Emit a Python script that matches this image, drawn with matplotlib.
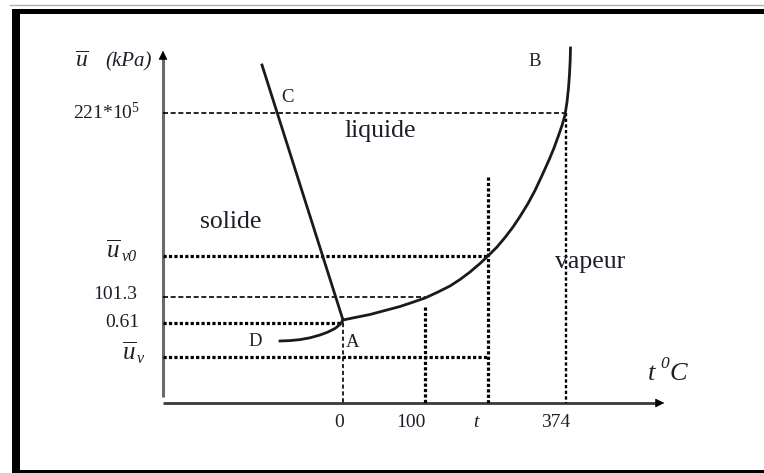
import matplotlib
matplotlib.use("Agg")
import matplotlib.pyplot as plt
from matplotlib.patches import Rectangle

plt.rcParams['font.family'] = ['Liberation Serif', 'DejaVu Serif']
plt.rcParams['mathtext.fontset'] = 'custom'
plt.rcParams['mathtext.rm'] = 'Liberation Serif'
plt.rcParams['mathtext.it'] = 'Liberation Serif:italic'
plt.rcParams['mathtext.bf'] = 'Liberation Serif:bold'

# ---- schematic data (diagram units = pixel positions of the sketch) ----
origin = (163, 403)
x_axis_end = 667
y_axis_end = 48

# temperature ticks
t_tick_pos = [343, 425, 488, 566]
t_tick_labels = ['0', '100', r'$t$', '374']

# pressure ticks
p_tick_pos = [113, 256, 297, 323, 357]
p_tick_labels = [r'221*10$^{5}$', r'$\overline{u}$', '101.3', '0.61', r'$\overline{u}$']
p_tick_subs = ['', 'v0', '', '', 'v']

# fusion line C-A
fusion_x = [262, 343]
fusion_y = [65, 320]
# sublimation curve D-A
sub_x = [280, 290, 300, 310, 320, 328, 335, 340, 343]
sub_y = [341, 340.6, 339.6, 337.8, 335, 332, 328.5, 324.5, 320]
# vaporisation curve A-B
vap_x = [343, 355, 370, 385, 400, 412, 425, 437, 450, 460, 470, 480, 488, 497, 505,
         513, 520, 528, 535, 542, 549, 554, 558, 562, 565, 567, 568.5, 569.5, 570.2, 570.5]
vap_y = [320, 317.5, 314.5, 310.5, 306.5, 302.5, 298, 292.5, 286, 279.5, 272, 263.5, 256, 247, 237.5,
         227, 216.5, 203.5, 190.5, 175.5, 160, 148, 137, 125.5, 115, 102, 88, 74, 60, 48]

TXT = '#1e1e28'

fig = plt.figure(figsize=(7.64, 4.73), dpi=100)
ax = fig.add_axes([0, 0, 1, 1])
ax.set_xlim(0, 764)
ax.set_ylim(473, 0)
ax.axis('off')

# ---- frame ----
ax.plot([10, 764], [5, 5], color='#b0b0b0', lw=1)
ax.add_patch(Rectangle((12, 9), 752, 5, color='black', lw=0))
ax.add_patch(Rectangle((12, 9), 8, 464, color='black', lw=0))
ax.add_patch(Rectangle((12, 470), 752, 3, color='black', lw=0))

# ---- axes with arrows ----
ax.plot([origin[0], origin[0]], [397, y_axis_end + 8], color='#6a6a6a', lw=2.2, solid_capstyle='butt')
ax.annotate('', xy=(origin[0], y_axis_end), xytext=(origin[0], y_axis_end + 12),
            arrowprops=dict(arrowstyle='-|>', color='black', lw=0.5, mutation_scale=14))
ax.plot([origin[0], x_axis_end - 8], [origin[1], origin[1]], color='#3a3a3a', lw=2.0, solid_capstyle='butt')
ax.annotate('', xy=(x_axis_end, origin[1]), xytext=(x_axis_end - 12, origin[1]),
            arrowprops=dict(arrowstyle='-|>', color='black', lw=0.5, mutation_scale=14))

thin_dash = dict(color='black', lw=1.2, linestyle=(0, (3, 1.6)))
thick_dot = dict(color='black', lw=2.3, linestyle=(0, (1.0, 0.7)))
med_dot = dict(color='black', lw=1.7, linestyle=(0, (1.4, 1.0)))

# horizontal guides
ax.plot([origin[0], t_tick_pos[3]], [p_tick_pos[0]] * 2, **thin_dash)
ax.plot([origin[0], t_tick_pos[2]], [p_tick_pos[1]] * 2, **thick_dot)
ax.plot([origin[0], t_tick_pos[1]], [p_tick_pos[2]] * 2, **thin_dash)
ax.plot([origin[0], t_tick_pos[0]], [p_tick_pos[3]] * 2, **thick_dot)
ax.plot([origin[0], t_tick_pos[2]], [p_tick_pos[4]] * 2, **thick_dot)

# vertical guides
ax.plot([t_tick_pos[0]] * 2, [p_tick_pos[3], origin[1]], color='black', lw=1.2, linestyle=(0, (2.5, 1.6)))
ax.plot([t_tick_pos[1]] * 2, [307, origin[1]], **thick_dot)
ax.plot([t_tick_pos[2]] * 2, [177, origin[1]], **thick_dot)
ax.plot([t_tick_pos[3]] * 2, [p_tick_pos[0], origin[1]], **med_dot)

# phase curves
ax.plot(fusion_x, fusion_y, color='#1a1a1a', lw=2.0)
ax.plot(sub_x, sub_y, color='#1a1a1a', lw=2.0, solid_joinstyle='round')
ax.plot(vap_x, vap_y, color='#1a1a1a', lw=2.0, solid_joinstyle='round')

# ---- tick labels ----
t_label_x = [339, 411, 477, 556]
for x, lab in zip(t_label_x, t_tick_labels):
    ax.text(x, 422, lab, ha='center', va='center', fontsize=14, color=TXT)

p_label_right = [140, 121, 137, 139, 136]
p_label_y = [112, 251, 294, 322, 353]
p_sizes = [14, 18, 14, 14, 18]
for x, y, lab, sub, fs in zip(p_label_right, p_label_y, p_tick_labels, p_tick_subs, p_sizes):
    ax.text(x, y, lab, ha='right', va='center', fontsize=fs, color=TXT)
    if sub:
        ax.text(x + 1, y + 6, sub, ha='left', va='center', fontsize=11.5,
                color=TXT, style='italic')

# axis titles
ax.text(75, 62, r'$\overline{u}$', ha='left', va='center', fontsize=17, color=TXT)
ax.text(105, 62, '(kPa)', ha='left', va='center', fontsize=15, color=TXT, style='italic')
ax.text(648, 374, 't', ha='left', va='center', fontsize=19, color=TXT, style='italic')
ax.text(660, 364, '0', ha='left', va='center', fontsize=12.5, color=TXT, style='italic')
ax.text(670, 374, 'C', ha='left', va='center', fontsize=19, color=TXT, style='italic')

# phase names
ax.text(345, 131, 'liquide', ha='left', va='center', fontsize=18.5, color=TXT)
ax.text(200, 222, 'solide', ha='left', va='center', fontsize=18.5, color=TXT)
ax.text(555, 262, 'vapeur', ha='left', va='center', fontsize=18.5, color=TXT)

# point letters
ax.text(535, 62, 'B', ha='center', va='center', fontsize=13.5, color=TXT)
ax.text(287, 97, 'C', ha='center', va='center', fontsize=13.5, color=TXT)
ax.text(255, 341, 'D', ha='center', va='center', fontsize=13.5, color=TXT)
ax.text(353, 342, 'A', ha='center', va='center', fontsize=13.5, color=TXT)

fig.savefig('out.png', dpi=100)
